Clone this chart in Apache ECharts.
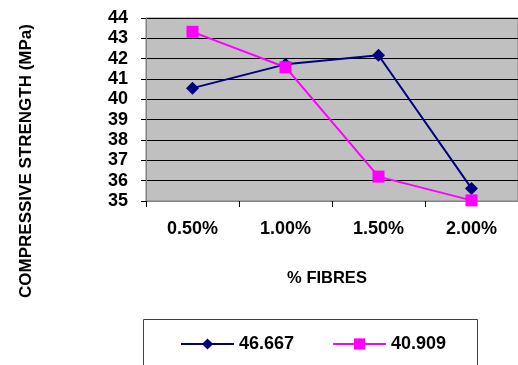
<!DOCTYPE html>
<html>
<head>
<meta charset="utf-8">
<script src="https://cdn.jsdelivr.net/npm/echarts@6/dist/echarts.min.js"></script>
<style>
  html, body { margin: 0; padding: 0; background: #fff; }
  #chart { width: 518px; height: 365px; }
</style>
</head>
<body>
<div id="chart"></div>
<script>
// Fibre content categories along the x axis
const fibres = ['0.50%', '1.00%', '1.50%', '2.00%'];
// Compressive strength (MPa) for each mix
const seriesA = [40.55, 41.72, 42.17, 35.62];
const seriesB = [43.32, 41.58, 36.2, 35.03];
const seriesNames = ['46.667', '40.909'];
// Value axis range
const yMin = 35, yMax = 44, yStep = 1;

const FONT = '"Liberation Sans", Arial, sans-serif';

const chart = echarts.init(document.getElementById('chart'));
chart.setOption({
  animation: false,
  backgroundColor: '#fff',
  grid: {
    left: 146, top: 18, width: 375, height: 183,
    show: true, backgroundColor: '#C0C0C0', borderColor: '#808080', borderWidth: 1
  },
  xAxis: {
    type: 'category',
    data: fibres,
    boundaryGap: true,
    axisLine: { lineStyle: { color: '#808080', width: 1 } },
    axisTick: { show: true, length: 6, lineStyle: { color: '#000' } },
    axisLabel: { color: '#000', fontFamily: FONT, fontWeight: 'bold', fontSize: 18, margin: 19 },
    splitLine: { show: false }
  },
  yAxis: {
    type: 'value',
    min: yMin, max: yMax, interval: yStep,
    axisLine: { show: true, lineStyle: { color: '#808080', width: 1 } },
    axisTick: { show: true, length: 5, lineStyle: { color: '#000' } },
    axisLabel: { color: '#000', fontFamily: FONT, fontWeight: 'bold', fontSize: 18, margin: 18 },
    splitLine: { show: true, lineStyle: { color: '#000', width: 1 } }
  },
  legend: {
    left: 175, top: 330,
    itemWidth: 53, itemHeight: 14, itemGap: 38,
    textStyle: { color: '#000', fontFamily: FONT, fontWeight: 'bold', fontSize: 18 },
    data: seriesNames
  },
  graphic: [
    {
      type: 'rect', left: 141, top: 317, silent: true,
      shape: { width: 334, height: 60 },
      style: { fill: 'none', stroke: '#404040', lineWidth: 1 }
    },
    {
      type: 'text', rotation: Math.PI / 2, x: 26, y: 161,
      style: {
        text: 'COMPRESSIVE STRENGTH (MPa)', fill: '#000',
        font: 'bold 17px ' + FONT, align: 'center', verticalAlign: 'middle'
      }
    },
    {
      type: 'text',
      style: {
        text: '% FIBRES', fill: '#000', x: 327, y: 278,
        font: 'bold 16.5px ' + FONT, align: 'center', verticalAlign: 'middle'
      }
    }
  ],
  series: [
    {
      name: seriesNames[0], type: 'line', data: seriesA,
      symbol: 'diamond', symbolSize: 13,
      lineStyle: { color: '#000080', width: 2 },
      itemStyle: { color: '#000080' }
    },
    {
      name: seriesNames[1], type: 'line', data: seriesB,
      symbol: 'rect', symbolSize: 12,
      lineStyle: { color: '#FF00FF', width: 2 },
      itemStyle: { color: '#FF00FF' }
    }
  ]
});
</script>
</body>
</html>
